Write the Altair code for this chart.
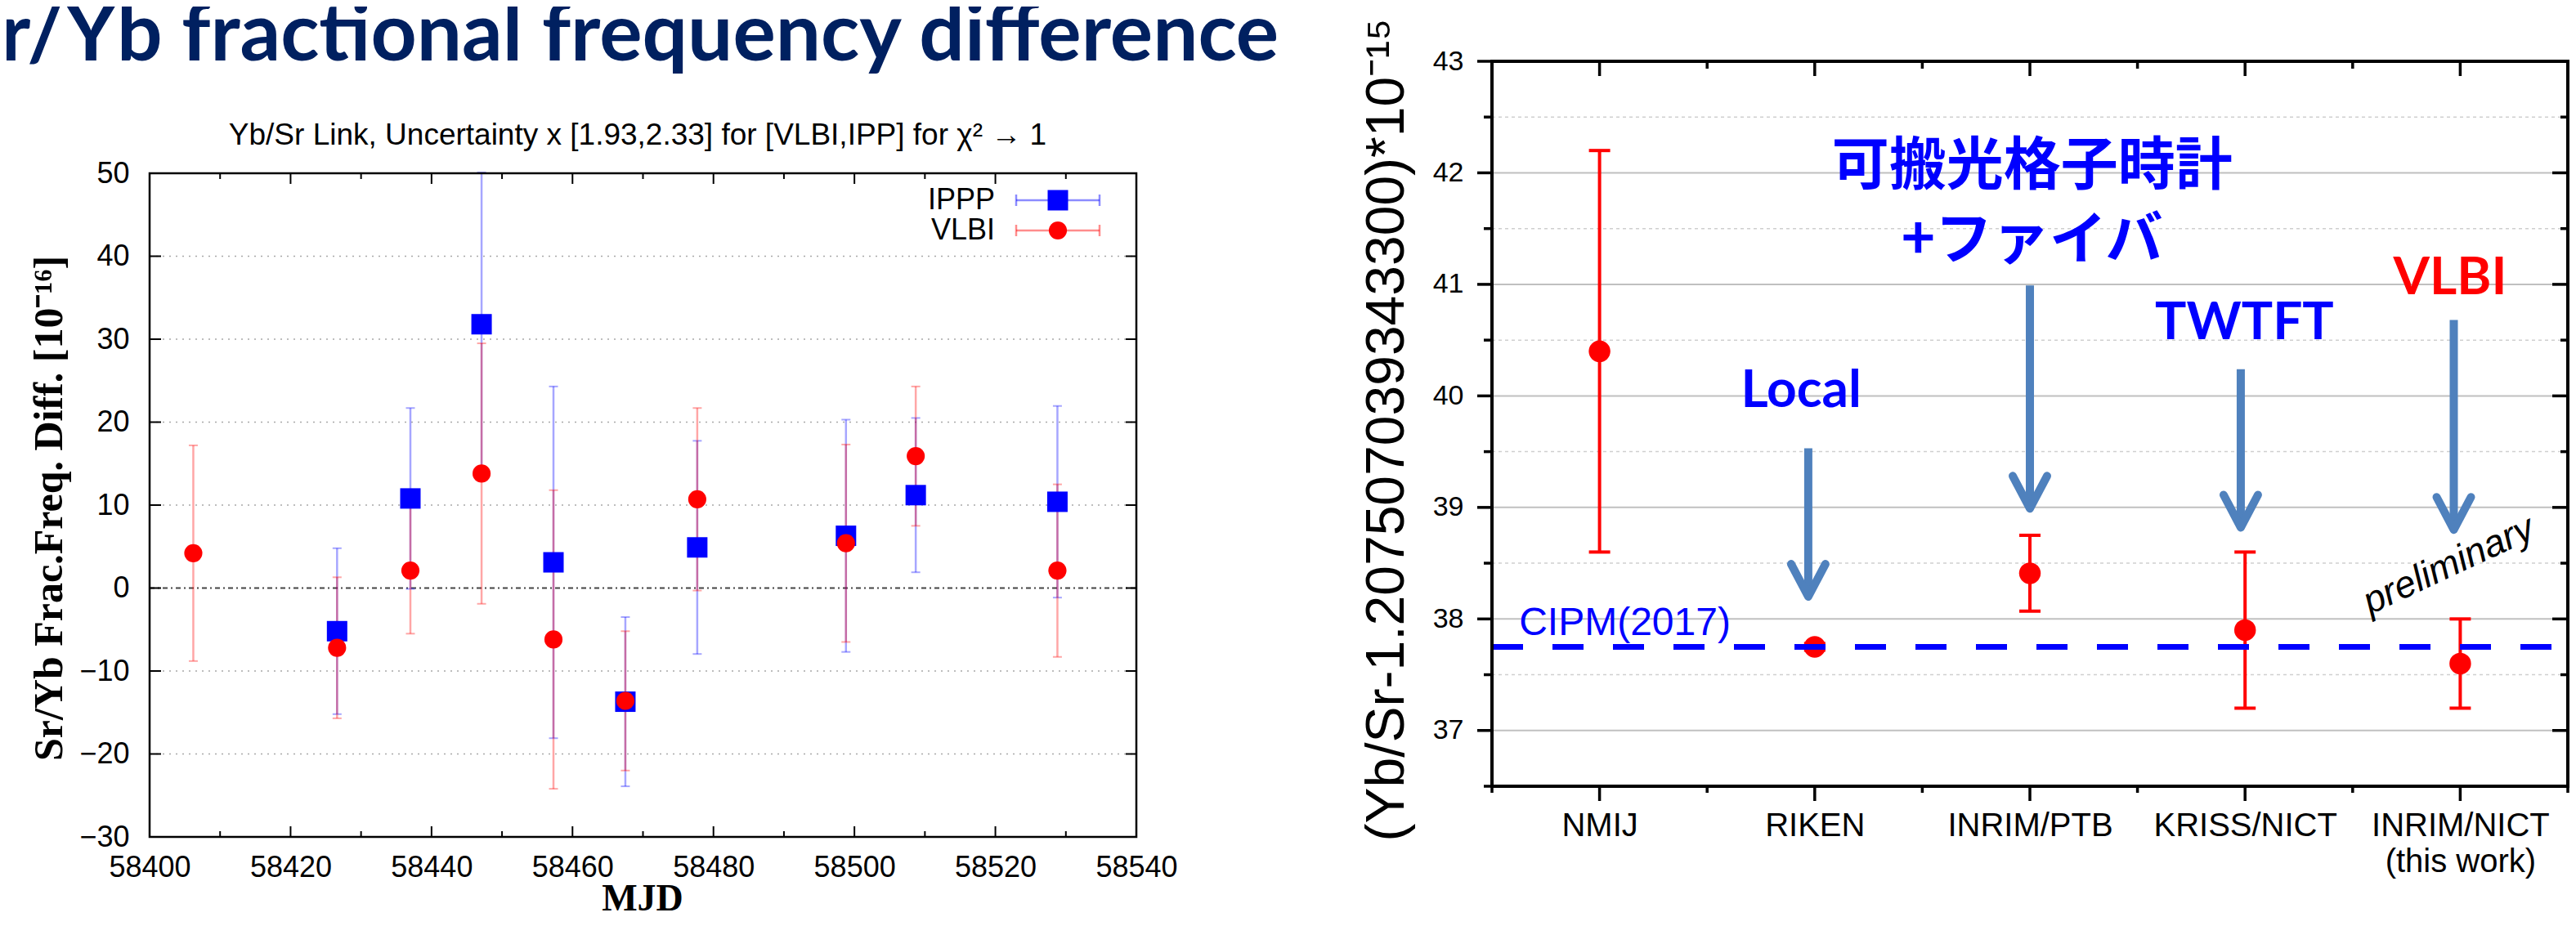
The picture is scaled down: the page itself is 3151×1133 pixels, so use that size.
import json
import altair as alt
import pandas as pd

# ---------------- overall canvas ----------------
W, H = 3135, 1117

# ---------------- texts ----------------
SLIDE_TITLE = "Sr/Yb fractional frequency difference"
LEFT_TITLE = "Yb/Sr Link, Uncertainty x [1.93,2.33] for [VLBI,IPP] for \u03c7\u00b2 \u2192  1"
LEFT_YTITLE = "Sr/Yb Frac.Freq. Diff. [10\u207b\u00b9\u2076]"
LEFT_XTITLE = "MJD"
LEGEND_NAMES = ["IPPP", "VLBI"]
RIGHT_YTITLE = "(Yb/Sr-1.207507039343300)*10\u207b\u00b9\u2075"

# ---------------- left panel data ----------------
mjd_vlbi = [58406.2, 58426.6, 58437.0, 58447.1, 58457.3, 58467.5, 58477.7, 58498.8, 58508.7, 58528.8]
vlbi = [4.2, -7.2, 2.1, 13.8, -6.2, -13.6, 10.7, 5.4, 15.9, 2.1]
vlbi_err = [13.0, 8.5, 7.6, 15.7, 18.0, 8.4, 11.0, 11.9, 8.4, 10.4]

mjd_ippp = [58426.6, 58437.0, 58447.1, 58457.3, 58467.5, 58477.7, 58498.8, 58508.7, 58528.8]
ippp = [-5.2, 10.8, 31.8, 3.1, -13.7, 4.9, 6.3, 11.2, 10.4]
ippp_err = [10.0, 10.9, 18.3, 21.2, 10.2, 12.85, 14.0, 9.3, 11.55]

mjd_ticks = list(range(58400, 58541, 20))
mjd_minor = list(range(58410, 58540, 20))
diff_ticks = list(range(-30, 51, 10))

# ---------------- right panel data ----------------
labs = ["NMIJ", "RIKEN", "INRIM/PTB", "KRISS/NICT", "INRIM/NICT\n(this work)"]
ratio = [40.4, 37.75, 38.41, 37.9, 37.6]
ratio_err = [1.8, 0.03, 0.34, 0.7, 0.4]
cipm = 37.75
ratio_ticks = [37, 38, 39, 40, 41, 42, 43]

arrow_x = [0.97, 2.0, 2.98, 3.97]
arrow_from = [39.53, 40.99, 40.24, 40.68]
arrow_to = [38.20, 38.99, 38.82, 38.80]

ann_blue = ["Local", "TWTFT"]
ann_blue_x = [0.937, 2.997]
ann_blue_y = [39.90, 40.51]
ann_red = ["VLBI"]
ann_red_x = [3.953]
ann_red_y = [40.91]
ann_jp = ["\u53ef\u642c\u5149\u683c\u5b50\u6642\u8a08", "+\u30d5\u30a1\u30a4\u30d0"]
ann_jp_x = [2.01, 2.01]
ann_jp_y = [42.05, 41.38]
ann_cipm = ["CIPM(2017)"]
ann_cipm_x = [-0.374]
ann_cipm_y = [37.857]
ann_prelim = ["preliminary"]
ann_prelim_x = [3.946]
ann_prelim_y = [38.48]

# ---------------- pixel placement of the two plot areas ----------------
L_X = [175, 1382]
L_Y = [1016, 204]
R_X = [1817, 3133]
R_Y = [954, 67]

SANS = "Liberation Sans"
SERIF = "Liberation Serif"
BOLD = "Lato"
CJK = "Noto Sans CJK JP"

one = pd.DataFrame({"k": [0]})

# =====================================================================
# LEFT PANEL
# =====================================================================
xs_l = alt.Scale(domain=[58400, 58540], range=L_X, nice=False, zero=False)
ys_l = alt.Scale(domain=[-30, 50], range=L_Y, nice=False, zero=False)

ax_xl = alt.Axis(values=mjd_ticks, format="d", title=None, orient="bottom",
                 offset=L_Y[0] - H, domain=False, ticks=False, tickSize=0, grid=False,
                 labelFont=SANS, labelFontSize=36, labelColor="black", labelPadding=48,
                 labelBaseline="alphabetic", labelAlign="center", labelFlush=False,
                 labelOverlap=False, labelLimit=0)
ax_yl = alt.Axis(values=diff_ticks, format="d", title=None, orient="left",
                 offset=-L_X[0], domain=False, ticks=False, tickSize=0, grid=False,
                 labelFont=SANS, labelFontSize=36, labelColor="black", labelPadding=25,
                 labelBaseline="middle", labelAlign="right", labelFlush=False,
                 labelOverlap=False, labelLimit=0)


def XL(f):
    return alt.X(f"{f}:Q", scale=xs_l, axis=ax_xl)


def YL(f):
    return alt.Y(f"{f}:Q", scale=ys_l, axis=ax_yl)


xmin_l, xmax_l = 58400, 58540
ymin_l, ymax_l = -30, 50

df_v = pd.DataFrame({"mjd": mjd_vlbi, "val": vlbi, "err": vlbi_err})
df_v["lo"] = df_v["val"] - df_v["err"]
df_v["hi"] = df_v["val"] + df_v["err"]
df_i = pd.DataFrame({"mjd": mjd_ippp, "val": ippp, "err": ippp_err})
df_i["lo"] = df_i["val"] - df_i["err"]
df_i["hi"] = df_i["val"] + df_i["err"]

grid_vals = [v for v in diff_ticks if v not in (ymin_l, 0, ymax_l)]
df_grid_l = pd.DataFrame({"y": grid_vals, "x0": xmin_l, "x1": xmax_l})
grid_l = alt.Chart(df_grid_l).mark_rule(color="#a8a8a8", strokeWidth=1.5, strokeDash=[2, 6]).encode(
    x=XL("x0"), x2=alt.X2("x1"), y=YL("y"))

df_zero = pd.DataFrame({"y": [0], "x0": [xmin_l], "x1": [xmax_l]})
zero_l = alt.Chart(df_zero).mark_rule(color="#444444", strokeWidth=2, strokeDash=[6, 4, 2, 4]).encode(
    x=XL("x0"), x2=alt.X2("x1"), y=YL("y"))

df_frame_l = pd.DataFrame({"x0": [xmin_l], "x1": [xmax_l], "y0": [ymin_l], "y1": [ymax_l]})
frame_l = alt.Chart(df_frame_l).mark_rect(fill="white", fillOpacity=0, stroke="black", strokeWidth=2.5).encode(
    x=XL("x0"), x2=alt.X2("x1"), y=YL("y0"), y2=alt.Y2("y1"))


def tick_layer(xs, ys, X, Y, orient, length, offset, width):
    df = pd.DataFrame({"x": xs, "y": ys})
    kw = dict(orient=orient, size=length, thickness=width, color="black", opacity=1)
    if orient == "vertical":
        kw["yOffset"] = offset
    else:
        kw["xOffset"] = offset
    return alt.Chart(df).mark_tick(**kw).encode(x=X("x"), y=Y("y"))


inner_major = mjd_ticks[1:-1]
inner_y = diff_ticks[1:-1]
ticks_l = [
    tick_layer(inner_major, [ymin_l] * len(inner_major), XL, YL, "vertical", 13, -6.5, 2),
    tick_layer(mjd_minor, [ymin_l] * len(mjd_minor), XL, YL, "vertical", 7, -3.5, 2),
    tick_layer(inner_major, [ymax_l] * len(inner_major), XL, YL, "vertical", 13, 6.5, 2),
    tick_layer(mjd_minor, [ymax_l] * len(mjd_minor), XL, YL, "vertical", 7, 3.5, 2),
    tick_layer([xmin_l] * len(inner_y), inner_y, XL, YL, "horizontal", 14, 7, 2),
    tick_layer([xmax_l] * len(inner_y), inner_y, XL, YL, "horizontal", 13, -6.5, 2),
]


def errbars(df, color, op):
    bar = alt.Chart(df).mark_rule(color=color, opacity=op, strokeWidth=2.5).encode(
        x=XL("mjd"), y=YL("lo"), y2=alt.Y2("hi"))
    cap_lo = alt.Chart(df).mark_tick(orient="horizontal", size=11, thickness=2, color=color, opacity=op).encode(
        x=XL("mjd"), y=YL("lo"))
    cap_hi = alt.Chart(df).mark_tick(orient="horizontal", size=11, thickness=2, color=color, opacity=op).encode(
        x=XL("mjd"), y=YL("hi"))
    return [bar, cap_lo, cap_hi]


err_i = errbars(df_i, "#0000ff", 0.35)
err_v = errbars(df_v, "#ff0000", 0.35)

pts_i = alt.Chart(df_i).mark_square(size=625, color="#0000ff", opacity=1).encode(x=XL("mjd"), y=YL("val"))
pts_v = alt.Chart(df_v).mark_circle(size=490, color="#ff0000", opacity=1).encode(x=XL("mjd"), y=YL("val"))

# legend (key drawn with marks)
legend_layers = []
leg_rows = [237, 274]
leg_colors = ["#0000ff", "#ff0000"]
for name, ry, col in zip(LEGEND_NAMES, leg_rows, leg_colors):
    legend_layers.append(alt.Chart(one).mark_text(text=name, font=SANS, fontSize=36, color="black",
                                                 align="right", baseline="middle").encode(
        x=alt.value(1209), y=alt.value(ry)))
    legend_layers.append(alt.Chart(one).mark_rule(color=col, opacity=0.45, strokeWidth=2.5).encode(
        x=alt.value(1235), x2=alt.value(1337), y=alt.value(ry)))
    for cx in (1235, 1337):
        legend_layers.append(alt.Chart(one).mark_rule(color=col, opacity=0.45, strokeWidth=2.5).encode(
            x=alt.value(cx), y=alt.value(ry - 7), y2=alt.value(ry + 7)))
    if name == "IPPP":
        legend_layers.append(alt.Chart(one).mark_square(size=625, color=col, opacity=1).encode(
            x=alt.value(1286), y=alt.value(ry)))
    else:
        legend_layers.append(alt.Chart(one).mark_circle(size=490, color=col, opacity=1).encode(
            x=alt.value(1286), y=alt.value(ry)))

slide_title = alt.Chart(one).mark_text(text=SLIDE_TITLE, font=BOLD, fontWeight="bold", fontSize=98,
                                       color="#002060", align="left", baseline="alphabetic").encode(
    x=alt.value(-60), y=alt.value(66))
left_title = alt.Chart(one).mark_text(text=LEFT_TITLE, font=SANS, fontSize=37, color="black",
                                      align="center", baseline="alphabetic").encode(
    x=alt.value(772), y=alt.value(169))
left_ytitle = alt.Chart(one).mark_text(text=LEFT_YTITLE, font=SERIF, fontWeight="bold", fontSize=50,
                                       color="black", angle=270, align="center", baseline="middle").encode(
    x=alt.value(53), y=alt.value(614))
left_xtitle = alt.Chart(one).mark_text(text=LEFT_XTITLE, font=SERIF, fontWeight="bold", fontSize=46,
                                       color="black", align="center", baseline="alphabetic").encode(
    x=alt.value(778), y=alt.value(1106))

left = alt.layer(grid_l, zero_l, *ticks_l, *err_i, *err_v, pts_i, pts_v, frame_l,
                 *legend_layers, slide_title, left_title, left_ytitle, left_xtitle)

# =====================================================================
# RIGHT PANEL
# =====================================================================
xs_r = alt.Scale(domain=[-0.5, 4.5], range=R_X, nice=False, zero=False)
ys_r = alt.Scale(domain=[36.5, 43], range=R_Y, nice=False, zero=False)

cat_expr = "[" + ",".join(json.dumps(c.split("\n")) for c in labs) + "][datum.value]"

ax_xr = alt.Axis(values=list(range(len(labs))), labelExpr=cat_expr, title=None, orient="bottom",
                 offset=R_Y[0] - H, domain=False, ticks=False, tickSize=0, grid=False,
                 labelFont=SANS, labelFontSize=40, labelColor="black", labelPadding=60,
                 labelBaseline="alphabetic", labelAlign="center", labelLineHeight=44,
                 labelFlush=False, labelOverlap=False, labelLimit=0)
ax_yr = alt.Axis(values=ratio_ticks, format="d", title=None, orient="left",
                 offset=-R_X[0], domain=False, ticks=False, tickSize=0, grid=False,
                 labelFont=SANS, labelFontSize=34, labelColor="black", labelPadding=35,
                 labelBaseline="middle", labelAlign="right", labelFlush=False, labelOverlap=False,
                 labelLimit=0)


def XR(f):
    return alt.X(f"{f}:Q", scale=xs_r, axis=ax_xr)


def YR(f):
    return alt.Y(f"{f}:Q", scale=ys_r, axis=ax_yr)


xmin_r, xmax_r = -0.5, 4.5
ymin_r, ymax_r = 36.5, 43

halves = [ymin_r + 0.5 * i for i in range(int((ymax_r - ymin_r) / 0.5) + 1)]
ints = [v for v in halves if float(v).is_integer()]
half_only = [v for v in halves if not float(v).is_integer()]
cats = list(range(len(labs)))
bounds = [c - 0.5 for c in cats] + [cats[-1] + 0.5]

df_gi = pd.DataFrame({"y": [v for v in ints if ymin_r < v < ymax_r], "x0": xmin_r, "x1": xmax_r})
df_gh = pd.DataFrame({"y": [v for v in half_only if ymin_r < v < ymax_r], "x0": xmin_r, "x1": xmax_r})
grid_ri = alt.Chart(df_gi).mark_rule(color="#c0c0c0", strokeWidth=2).encode(
    x=XR("x0"), x2=alt.X2("x1"), y=YR("y"))
grid_rh = alt.Chart(df_gh).mark_rule(color="#cfcfcf", strokeWidth=1.5, strokeDash=[4, 4]).encode(
    x=XR("x0"), x2=alt.X2("x1"), y=YR("y"))

df_cipm = pd.DataFrame({"y": [cipm], "x0": [xmin_r], "x1": [xmax_r]})
cipm_line = alt.Chart(df_cipm).mark_rule(color="#0000ff", strokeWidth=7, strokeDash=[38, 36]).encode(
    x=XR("x0"), x2=alt.X2("x1"), y=YR("y"))

df_frame_r = pd.DataFrame({"x0": [xmin_r], "x1": [xmax_r], "y0": [ymin_r], "y1": [ymax_r]})
frame_r = alt.Chart(df_frame_r).mark_rect(fill="white", fillOpacity=0, stroke="black", strokeWidth=4).encode(
    x=XR("x0"), x2=alt.X2("x1"), y=YR("y0"), y2=alt.Y2("y1"))

ticks_r = [
    tick_layer([xmin_r] * len(ints), ints, XR, YR, "horizontal", 18, -9, 3.5),
    tick_layer([xmin_r] * len(half_only), half_only, XR, YR, "horizontal", 10, -5, 3.5),
    tick_layer([xmax_r] * len(ints), ints, XR, YR, "horizontal", 19, -9.5, 3.5),
    tick_layer([xmax_r] * len(half_only), half_only, XR, YR, "horizontal", 9, -4.5, 3.5),
    tick_layer(cats, [ymin_r] * len(cats), XR, YR, "vertical", 18, 9, 3.5),
    tick_layer(bounds, [ymin_r] * len(bounds), XR, YR, "vertical", 8, 4, 3.5),
    tick_layer(cats, [ymax_r] * len(cats), XR, YR, "vertical", 18, 9, 3.5),
    tick_layer(bounds, [ymax_r] * len(bounds), XR, YR, "vertical", 9, 4.5, 3.5),
]

df_r = pd.DataFrame({"x": cats, "val": ratio, "err": ratio_err})
df_r["lo"] = df_r["val"] - df_r["err"]
df_r["hi"] = df_r["val"] + df_r["err"]
bar_r = alt.Chart(df_r).mark_rule(color="#ff0000", strokeWidth=4).encode(x=XR("x"), y=YR("lo"), y2=alt.Y2("hi"))
cap_r_lo = alt.Chart(df_r).mark_tick(orient="horizontal", size=26, thickness=4, color="#ff0000", opacity=1).encode(
    x=XR("x"), y=YR("lo"))
cap_r_hi = alt.Chart(df_r).mark_tick(orient="horizontal", size=26, thickness=4, color="#ff0000", opacity=1).encode(
    x=XR("x"), y=YR("hi"))
pts_r = alt.Chart(df_r).mark_circle(size=700, color="#ff0000", opacity=1).encode(x=XR("x"), y=YR("val"))

df_arr = pd.DataFrame({"x": arrow_x, "y0": arrow_from, "y1": arrow_to})
ARROW_BLUE = "#4f81bd"
shafts = alt.Chart(df_arr).mark_rule(color=ARROW_BLUE, strokeWidth=10).encode(
    x=XR("x"), y=YR("y0"), y2=alt.Y2("y1"))
heads = alt.Chart(df_arr).mark_point(shape="M-1,-1.9L0,0L1,-1.9", size=1764, filled=False,
                                     color=ARROW_BLUE, strokeWidth=10, strokeCap="round",
                                     strokeJoin="round", opacity=1).encode(x=XR("x"), y=YR("y1"))


def ann(texts, xs, ys, **kw):
    df = pd.DataFrame({"t": texts, "x": xs, "y": ys})
    return alt.Chart(df).mark_text(**kw).encode(x=XR("x"), y=YR("y"), text="t:N")


t_blue = ann(ann_blue, ann_blue_x, ann_blue_y, font=BOLD, fontWeight="bold", fontSize=64,
             color="#0000ff", align="center", baseline="alphabetic")
t_red = ann(ann_red, ann_red_x, ann_red_y, font=BOLD, fontWeight="bold", fontSize=64,
            color="#ff0000", align="center", baseline="alphabetic")
t_jp = ann(ann_jp, ann_jp_x, ann_jp_y, font=CJK, fontWeight="bold", fontSize=70,
           color="#0000ff", align="center", baseline="middle")
t_cipm = ann(ann_cipm, ann_cipm_x, ann_cipm_y, font=SANS, fontSize=48,
             color="#0000ff", align="left", baseline="alphabetic")
t_pre = ann(ann_prelim, ann_prelim_x, ann_prelim_y, font=SANS, fontStyle="italic", fontSize=46,
            color="black", align="center", baseline="middle", angle=335)

right_ytitle = alt.Chart(one).mark_text(text=RIGHT_YTITLE, font=SANS, fontSize=66, color="black",
                                        angle=270, align="center", baseline="middle").encode(
    x=alt.value(1689), y=alt.value(518))

right = alt.layer(grid_ri, grid_rh, *ticks_r, bar_r, cap_r_lo, cap_r_hi, pts_r, cipm_line,
                  shafts, heads, frame_r, t_blue, t_red, t_jp, t_cipm, t_pre, right_ytitle)

chart = (
    alt.layer(left, right)
    .resolve_scale(x="independent", y="independent")
    .properties(width=W, height=H, autosize=alt.AutoSizeParams(type="none"), padding=0,
                background="white")
    .configure_view(strokeOpacity=0)
)

chart.save("out.html", embed_options={"renderer": "svg", "actions": False})
